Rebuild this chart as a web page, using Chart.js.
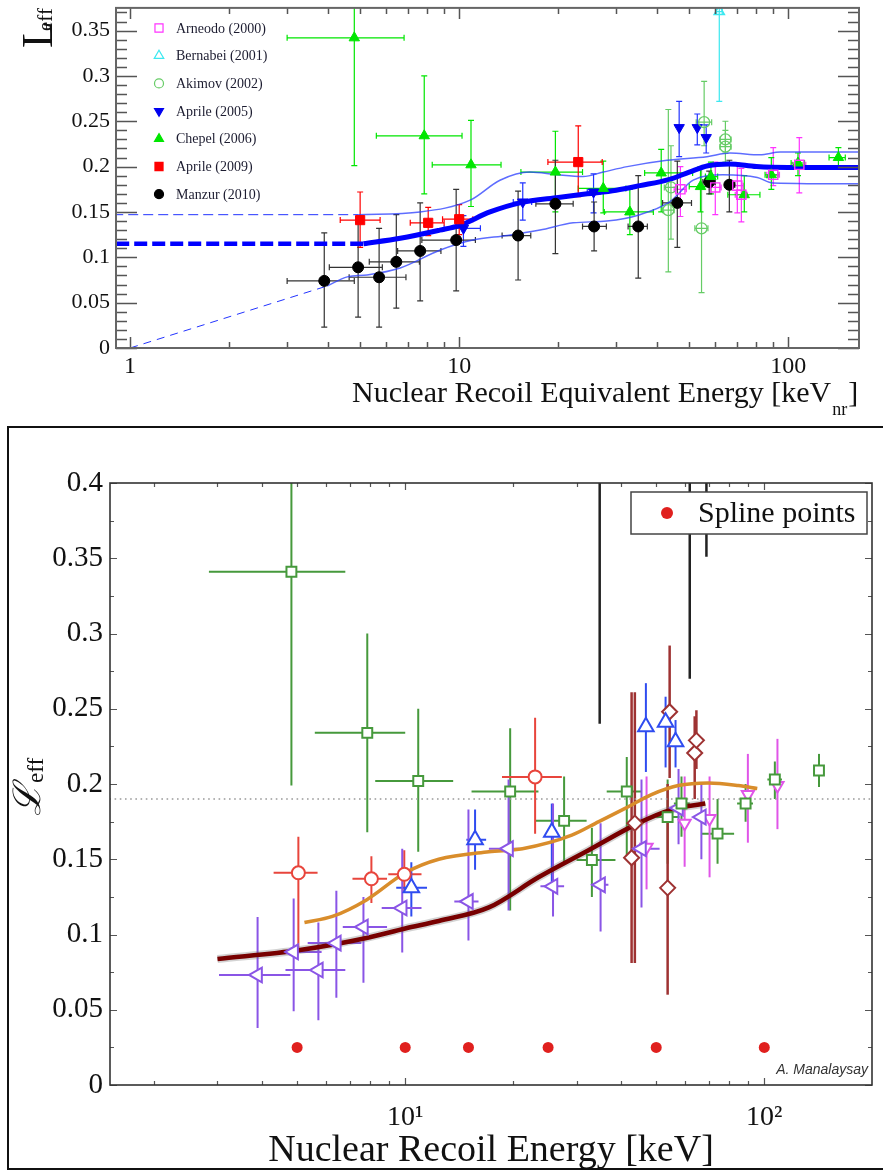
<!DOCTYPE html>
<html>
<head>
<meta charset="utf-8">
<script src="https://cdn.jsdelivr.net/npm/chart.js@4.4.1/dist/chart.umd.min.js"></script>
<style>
  html, body { margin: 0; padding: 0; background: #fff; }
  #page { position: relative; width: 883px; height: 1171px; overflow: hidden; }
  #topChart { position: absolute; left: 0; top: 0; }
  #botFrame { position: absolute; left: 7px; top: 426px; width: 900px; height: 740px; border: 2px solid #111; }
  #botChart { position: absolute; left: 0; top: 420px; }
</style>
</head>
<body>
<div id="page">
  <canvas id="topChart" width="883" height="420"></canvas>
  <div id="botFrame"></div>
  <canvas id="botChart" width="883" height="751"></canvas>
</div>
<script>
// rows are [E, Leff, E low, E high, Leff low, Leff high]

// ---- top panel
const topArneodo = [
  [47, 0.175, 45, 49, 0.145, 0.20],
  [60, 0.177, 57.5, 62.5, 0.147, 0.205],
  [70, 0.179, 67, 73, 0.149, 0.204],
  [72, 0.169, 69, 75, 0.139, 0.198],
  [90, 0.191, 86, 94, 0.179, 0.221],
  [108, 0.202, 103, 113, 0.171, 0.232]
];
const topBernabei = [[61.7, 0.371, 60.5, 63, 0.272, 0.45]];
const topAkimov = [
  [43.2, 0.152, 41.5, 45, 0.084, 0.263],
  [44, 0.177, 42, 46, 0.12, 0.223],
  [54.5, 0.132, 52, 57, 0.061, 0.20],
  [55.5, 0.249, 52.5, 58.5, 0.223, 0.294],
  [64.4, 0.230, 62, 67, 0.215, 0.25],
  [64.4, 0.222, 62, 67, 0.205, 0.24]
];
const topAprile05 = [
  [10.3, 0.132, 9.0, 11.6, 0.112, 0.146],
  [15.6, 0.161, 14.6, 16.6, 0.141, 0.182],
  [25.6, 0.172, 24.5, 26.8, 0.149, 0.192],
  [46.6, 0.243, 46.6, 46.6, 0.211, 0.272],
  [52.9, 0.243, 52.9, 52.9, 0.224, 0.258],
  [56.3, 0.232, 56.3, 56.3, 0.215, 0.246]
];
const topChepel = [
  [4.80, 0.342, 3.0, 6.8, 0.201, 0.40],
  [7.83, 0.234, 5.6, 10.2, 0.170, 0.300],
  [10.86, 0.202, 8.28, 13.4, 0.156, 0.251],
  [19.6, 0.194, 15.4, 23.7, 0.15, 0.239],
  [27.4, 0.176, 23.0, 32.1, 0.149, 0.206],
  [33.0, 0.150, 27.6, 38.9, 0.125, 0.175],
  [41.1, 0.193, 36.6, 51.2, 0.15, 0.219],
  [54.1, 0.178, 50, 58, 0.15, 0.20],
  [58.2, 0.189, 56, 61, 0.17, 0.205],
  [73.5, 0.169, 65.5, 82, 0.15, 0.19],
  [88.8, 0.191, 85, 93, 0.175, 0.21],
  [107, 0.204, 102, 112, 0.19, 0.215],
  [142, 0.210, 133, 149, 0.200, 0.221]
];
const topAprile09 = [
  [5.0, 0.141, 4.35, 5.75, 0.111, 0.172],
  [8.05, 0.138, 7.1, 9.0, 0.124, 0.155],
  [10.0, 0.142, 8.9, 11.0, 0.125, 0.158],
  [23.0, 0.205, 18.6, 27.2, 0.167, 0.245]
];
const topManzur = [
  [3.89, 0.074, 3.0, 4.8, 0.023, 0.127],
  [4.93, 0.089, 4.03, 5.84, 0.034, 0.145],
  [5.71, 0.078, 4.63, 6.89, 0.023, 0.132],
  [6.44, 0.095, 5.33, 7.57, 0.044, 0.147],
  [7.61, 0.107, 6.5, 8.8, 0.052, 0.160],
  [9.79, 0.119, 7.7, 11.2, 0.063, 0.175],
  [15.1, 0.124, 13.5, 16.5, 0.075, 0.173],
  [19.6, 0.159, 17.1, 22.2, 0.104, 0.207],
  [25.7, 0.134, 23.7, 28.0, 0.107, 0.161],
  [35.0, 0.134, 32.6, 37.3, 0.077, 0.190],
  [46.0, 0.160, 41.5, 50.8, 0.111, 0.206],
  [57.5, 0.183, 55, 60, 0.170, 0.195],
  [66.2, 0.180, 64.5, 68.8, 0.150, 0.207]
];
const topFitE = [5.12, 6.62, 8.73, 10.0, 12.4, 15.3, 20, 24.5, 30, 35.4, 43.6, 50, 57, 66, 80, 100, 170];
const topFitL = [0.115, 0.121, 0.130, 0.135, 0.150, 0.160, 0.166, 0.170, 0.174, 0.179, 0.186, 0.194, 0.201, 0.203, 0.200, 0.199, 0.199];
const topFitDashE = [0.8, 5.12];
const topFitDashL = [0.115, 0.115];
const topUpperE = [4.93, 7.6, 10.8, 13.3, 16.4, 19.8, 23.8, 27.4, 32.4, 42.8, 56.6, 66.5, 82, 94.5, 170];
const topUpperL = [0.147, 0.150, 0.163, 0.185, 0.194, 0.191, 0.189, 0.194, 0.200, 0.207, 0.211, 0.215, 0.213, 0.216, 0.216];
const topUpperDashE = [0.8, 4.93];
const topUpperDashL = [0.147, 0.147];
const topLowerE = [3.97, 4.57, 5.25, 6.62, 8.76, 11.0, 14.0, 17.6, 22.2, 28.1, 35.4, 43.6, 51.4, 63.3, 80.5, 89.8, 170];
const topLowerL = [0.0684, 0.0784, 0.0806, 0.0883, 0.108, 0.119, 0.124, 0.130, 0.138, 0.140, 0.147, 0.161, 0.185, 0.191, 0.188, 0.182, 0.181];
const topLowerDashE = [1, 3.97];
const topLowerDashL = [0, 0.0684];
const topXTicks = [1, 10, 100];
const topXMinor = [2, 3, 4, 5, 6, 7, 8, 9, 20, 30, 40, 50, 60, 70, 80, 90];
const topYTicks = [0, 0.05, 0.1, 0.15, 0.2, 0.25, 0.3, 0.35];

// ---- bottom panel
const botChepel = [
  [4.82, 0.341, 2.84, 6.81, 0.199, 0.42],
  [7.84, 0.234, 5.6, 10.0, 0.168, 0.300],
  [10.87, 0.202, 8.25, 13.6, 0.155, 0.250],
  [19.6, 0.195, 15.3, 23.5, 0.116, 0.237],
  [27.7, 0.1755, 23.1, 32.0, 0.148, 0.205],
  [33.1, 0.1495, 30.0, 38.5, 0.125, 0.171],
  [41.4, 0.195, 36.4, 45.5, 0.15, 0.218],
  [53.8, 0.178, 50, 58, 0.147, 0.203],
  [58.8, 0.187, 56, 62, 0.165, 0.205],
  [74.1, 0.167, 66.8, 82.4, 0.147, 0.19],
  [88.7, 0.187, 84, 93, 0.175, 0.2],
  [107, 0.203, 102, 112, 0.19, 0.215],
  [142, 0.209, 142, 142, 0.198, 0.220]
];
const botAprile09 = [
  [5.04, 0.141, 4.3, 5.7, 0.088, 0.165],
  [8.05, 0.137, 7.13, 8.9, 0.121, 0.152],
  [9.94, 0.140, 8.97, 11.1, 0.1276, 0.156],
  [23.0, 0.2047, 18.6, 27.3, 0.167, 0.244]
];
const botAprile05 = [
  [10.4, 0.131, 9.44, 11.5, 0.112, 0.148],
  [15.65, 0.163, 14.8, 16.8, 0.143, 0.183],
  [25.6, 0.168, 25.6, 25.6, 0.134, 0.187],
  [46.8, 0.238, 46.8, 46.8, 0.208, 0.267],
  [53.1, 0.241, 53.1, 53.1, 0.211, 0.258],
  [56.6, 0.228, 56.6, 56.6, 0.211, 0.2425]
];
const botManzur = [
  [3.88, 0.0731, 3.03, 4.79, 0.0379, 0.1116],
  [4.89, 0.0884, 4.67, 5.85, 0.049, 0.124],
  [5.73, 0.0764, 4.64, 6.81, 0.043, 0.108],
  [6.43, 0.0943, 5.35, 7.55, 0.058, 0.129],
  [7.65, 0.105, 6.7, 8.9, 0.068, 0.125],
  [9.81, 0.1176, 8.6, 11.1, 0.088, 0.157],
  [15.0, 0.122, 13.7, 16.0, 0.096, 0.183],
  [19.4, 0.157, 17.1, 20.8, 0.116, 0.203],
  [25.8, 0.132, 23.8, 27.7, 0.112, 0.187],
  [35.0, 0.133, 33.0, 36.8, 0.102, 0.174],
  [45.5, 0.157, 43.2, 51.1, 0.118, 0.203],
  [57.7, 0.184, 55, 60, 0.16, 0.21],
  [66.8, 0.178, 64.5, 69.5, 0.15, 0.20]
];
const botAkimov = [
  [42.7, 0.151, 42.7, 42.7, 0.081, 0.261],
  [43.6, 0.174, 43.6, 43.6, 0.081, 0.261],
  [53.8, 0.131, 53.8, 53.8, 0.060, 0.20],
  [54.5, 0.248, 54.5, 54.5, 0.204, 0.292],
  [64, 0.2206, 64, 64, 0.19, 0.245],
  [64.7, 0.229, 64.7, 64.7, 0.21, 0.249]
];
const botArneodo = [
  [47, 0.158, 47, 47, 0.13, 0.205],
  [60, 0.174, 60, 60, 0.145, 0.205],
  [70.4, 0.177, 70.4, 70.4, 0.138, 0.205],
  [90, 0.193, 90, 90, 0.161, 0.220],
  [108.8, 0.199, 108.8, 108.8, 0.170, 0.230]
];
const botBernabei = [
  [34.8, 0.44, 34.8, 34.8, 0.240, 0.64],
  [62, 0.44, 62, 62, 0.270, 0.61],
  [69, 0.44, 69, 69, 0.351, 0.53]
];
const botSplineE = [5, 10, 15, 25, 50, 100];
const botSplineL = [0.025, 0.025, 0.025, 0.025, 0.025, 0.025];
const botOrangeE = [5.24, 6.27, 7.8, 10, 12.4, 17.1, 21.2, 29.1, 34.6, 41.1, 48.5, 57.6, 69.9, 84.6, 95.6];
const botOrangeL = [0.108, 0.112, 0.123, 0.141, 0.150, 0.155, 0.157, 0.166, 0.175, 0.184, 0.193, 0.199, 0.2007, 0.199, 0.197];
const botMaroonE = [3.0, 5.09, 7.8, 10, 12.4, 17.1, 23.5, 32.4, 44.6, 55.2, 68.5];
const botMaroonL = [0.0837, 0.0897, 0.0977, 0.104, 0.109, 0.118, 0.138, 0.156, 0.174, 0.183, 0.187];
const botRefE = [1.5, 200];
const botRefL = [0.19, 0.19];
const botXTicks = [10, 100];
const botXLabels = ['10\u00B9', '10\u00B2'];
const botXMinor = [2, 3, 4, 5, 6, 7, 8, 9, 20, 30, 40, 50, 60, 70, 80, 90];
const botYTicks = [0, 0.05, 0.1, 0.15, 0.2, 0.25, 0.3, 0.35, 0.4];

const SERIF = "'Liberation Serif', 'Times New Roman', serif";

const pts = rows => rows.map(r => ({ x: r[0], y: r[1] }));
const line = (xs, ys) => xs.map((x, i) => ({ x: x, y: ys[i] }));
const fmtY = v => v === 0 ? '0' : String(+v.toFixed(2));
const between = (majors, step) => {
  const out = [];
  for (let i = 0; i < majors.length - 1; i++) {
    for (let v = majors[i] + step; v < majors[i + 1] - step / 2; v += step) out.push(v);
  }
  return out;
};
// keep the plot box where the picture has it, whatever the label sizes
const noPadX = h => s => { s.height = h; s.paddingLeft = 0; s.paddingRight = 0; };
const noPadY = w => s => { s.width = w; s.paddingTop = 0; s.paddingBottom = 0; };

// error bars drawn under the markers, from each dataset's rows
const errorBars = {
  id: 'errorBars',
  beforeDatasetsDraw(chart, args, opts) {
    const { ctx, chartArea: a, scales: { x, y } } = chart;
    const cap = opts.cap || 0;
    ctx.save();
    ctx.beginPath();
    ctx.rect(a.left, a.top, a.width, a.height);
    ctx.clip();
    chart.data.datasets.forEach(ds => {
      if (!ds.errors) return;
      ctx.strokeStyle = ds.errorColor || ds.borderColor;
      ctx.lineWidth = ds.errorWidth || 1.2;
      ds.errors.forEach(r => {
        const px = x.getPixelForValue(r[0]), py = y.getPixelForValue(r[1]);
        const x0 = x.getPixelForValue(r[2]), x1 = x.getPixelForValue(r[3]);
        const y0 = y.getPixelForValue(r[4]), y1 = y.getPixelForValue(r[5]);
        ctx.beginPath();
        if (r[2] !== r[3]) {
          ctx.moveTo(x0, py); ctx.lineTo(x1, py);
          if (cap) {
            ctx.moveTo(x0, py - cap); ctx.lineTo(x0, py + cap);
            ctx.moveTo(x1, py - cap); ctx.lineTo(x1, py + cap);
          }
        }
        ctx.moveTo(px, y0); ctx.lineTo(px, y1);
        if (cap) {
          ctx.moveTo(px - cap, y0); ctx.lineTo(px + cap, y0);
          ctx.moveTo(px - cap, y1); ctx.lineTo(px + cap, y1);
        }
        ctx.stroke();
      });
    });
    ctx.restore();
  }
};

// frame with inward ticks on all four sides
const frameTicks = {
  id: 'frameTicks',
  afterDatasetsDraw(chart, args, o) {
    const { ctx, chartArea: a, scales: { x, y } } = chart;
    ctx.save();
    ctx.strokeStyle = o.color;
    ctx.lineWidth = o.tickWidth;
    ctx.beginPath();
    const xt = (list, len) => list.forEach(v => {
      const p = Math.round(x.getPixelForValue(v)) + 0.5;
      ctx.moveTo(p, a.bottom); ctx.lineTo(p, a.bottom - len);
      ctx.moveTo(p, a.top); ctx.lineTo(p, a.top + len);
    });
    const yt = (list, len) => list.forEach(v => {
      const p = Math.round(y.getPixelForValue(v)) + 0.5;
      ctx.moveTo(a.left, p); ctx.lineTo(a.left + len, p);
      ctx.moveTo(a.right, p); ctx.lineTo(a.right - len, p);
    });
    xt(o.xMajor, o.xLen[0]); xt(o.xMinor, o.xLen[1]);
    yt(o.yMajor, o.yLen[0]); yt(o.yMinor, o.yLen[1]);
    ctx.stroke();
    ctx.lineWidth = o.frameWidth;
    ctx.strokeStyle = o.frameColor;
    ctx.strokeRect(a.left, a.top, a.width, a.height);
    ctx.restore();
  }
};

function drawMark(ctx, style, rot, x, y, r, fill, stroke, lw) {
  ctx.save();
  ctx.translate(x, y);
  ctx.rotate(rot * Math.PI / 180);
  ctx.beginPath();
  if (style === 'circle') {
    ctx.arc(0, 0, r, 0, Math.PI * 2);
  } else if (style === 'rect') {
    const s = r * Math.SQRT1_2;
    ctx.rect(-s, -s, 2 * s, 2 * s);
  } else {
    for (let k = 0; k < 3; k++) {
      const t = k * 2 * Math.PI / 3;
      ctx.lineTo(Math.sin(t) * r, -Math.cos(t) * r);
    }
    ctx.closePath();
  }
  ctx.fillStyle = fill;
  ctx.fill();
  if (lw) {
    ctx.lineWidth = lw;
    ctx.strokeStyle = stroke;
    ctx.stroke();
  }
  ctx.restore();
}

const topDecor = {
  id: 'topDecor',
  afterDraw(chart) {
    const ctx = chart.ctx;
    ctx.save();
    // legend
    let row = 0;
    chart.data.datasets.forEach(ds => {
      if (!ds.legendText) return;
      const yy = 28 + row * 27.7;
      drawMark(ctx, ds.pointStyle, ds.rotation || 0, 159, yy, ds.legendRadius,
        ds.backgroundColor, ds.borderColor, 1.2);
      ctx.font = '14px ' + SERIF;
      ctx.fillStyle = '#1c1c30';
      ctx.textAlign = 'left';
      ctx.textBaseline = 'middle';
      ctx.fillText(ds.legendText, 176, yy + 1);
      row++;
    });
    // x title with subscript
    ctx.textBaseline = 'alphabetic';
    ctx.fillStyle = '#111';
    const main = 'Nuclear Recoil Equivalent Energy [keV';
    ctx.font = '30px ' + SERIF;
    ctx.fillText(main, 352, 402);
    const w1 = ctx.measureText(main).width;
    ctx.font = '18px ' + SERIF;
    ctx.fillText('nr', 352 + w1 + 1, 415);
    const w2 = ctx.measureText('nr').width;
    ctx.font = '30px ' + SERIF;
    ctx.fillText(']', 352 + w1 + w2 + 2, 402);
    // y title
    ctx.translate(52, 48);
    ctx.rotate(-Math.PI / 2);
    ctx.font = '44px ' + SERIF;
    ctx.fillText('L', 0, 0);
    ctx.font = '21px ' + SERIF;
    ctx.fillText('eff', 17, 0);
    ctx.restore();
  }
};

const botDecor = {
  id: 'botDecor',
  afterDraw(chart) {
    const ctx = chart.ctx;
    const a = chart.chartArea;
    ctx.save();
    // legend box
    ctx.fillStyle = '#fff';
    ctx.fillRect(631, 72, 236, 42);
    ctx.strokeStyle = '#444';
    ctx.lineWidth = 1.5;
    ctx.strokeRect(631, 72, 236, 42);
    const sp = chart.data.datasets.find(d => d.legendText);
    drawMark(ctx, 'circle', 0, 667, 93, 6, sp.backgroundColor, sp.backgroundColor, 0);
    ctx.fillStyle = '#111';
    ctx.font = '30px ' + SERIF;
    ctx.textAlign = 'left';
    ctx.textBaseline = 'alphabetic';
    ctx.fillText(sp.legendText, 698, 102);
    // credit
    ctx.font = 'italic 14px "Liberation Sans", Arial, sans-serif';
    ctx.fillStyle = '#333';
    ctx.textAlign = 'right';
    ctx.fillText('A. Manalaysay', 868, 654);
    // x title
    ctx.font = '38px ' + SERIF;
    ctx.fillStyle = '#111';
    ctx.textAlign = 'center';
    ctx.fillText('Nuclear Recoil Energy [keV]', (a.left + a.right) / 2, 741);
    // y title
    ctx.textAlign = 'left';
    ctx.translate(40, 396);
    ctx.rotate(-Math.PI / 2);
    ctx.font = "italic 38px 'DejaVu Serif', " + SERIF;
    ctx.fillText('\u2112', 0, 0);
    ctx.font = '23px ' + SERIF;
    ctx.fillText('eff', 33, 3);
    ctx.restore();
  }
};

function marks(rows, style, rot, r, color, fill, lw, extra) {
  return Object.assign({
    data: pts(rows), errors: rows,
    pointStyle: style, rotation: rot, pointRadius: r, pointHoverRadius: r,
    borderColor: color, pointBorderColor: color,
    backgroundColor: fill, pointBackgroundColor: fill,
    pointBorderWidth: lw, showLine: false
  }, extra || {});
}

function curve(xs, ys, color, width, dash, extra) {
  return Object.assign({
    data: line(xs, ys), showLine: true, borderColor: color, borderWidth: width,
    borderDash: dash || [], pointRadius: 0, pointHoverRadius: 0, pointHitRadius: 0,
    cubicInterpolationMode: 'monotone', fill: false
  }, extra || {});
}

const open = 'rgba(255,255,255,0)';

new Chart(document.getElementById('topChart'), {
  type: 'scatter',
  data: {
    datasets: [
      marks(topArneodo, 'rect', 0, 6.5, '#ff33ff', open, 1.4, { legendText: 'Arneodo (2000)', legendRadius: 5.7 }),
      marks(topBernabei, 'triangle', 0, 6, '#3ce8f0', open, 1.4, { legendText: 'Bernabei (2001)', legendRadius: 5.5 }),
      marks(topAkimov, 'circle', 0, 5.5, '#66cc66', open, 1.3, { legendText: 'Akimov (2002)', legendRadius: 4.5 }),
      marks(topAprile05, 'triangle', 180, 6, '#0000f0', '#0000f0', 1, { legendText: 'Aprile (2005)', legendRadius: 5.2, errorColor: '#2233ff' }),
      marks(topChepel, 'triangle', 0, 6, '#00e600', '#00e600', 1, { legendText: 'Chepel (2006)', legendRadius: 5.2 }),
      marks(topAprile09, 'rect', 0, 6.5, '#ff0000', '#ff0000', 1, { legendText: 'Aprile (2009)', legendRadius: 5.7 }),
      marks(topManzur, 'circle', 0, 5.5, '#000000', '#000000', 1, { legendText: 'Manzur (2010)', legendRadius: 4.5, errorColor: '#333' }),
      curve(topFitE, topFitL, '#0000ff', 5),
      curve(topFitDashE, topFitDashL, '#0000ff', 4.5, [13, 5]),
      curve(topUpperE, topUpperL, 'rgba(40,60,255,0.75)', 1.5),
      curve(topUpperDashE, topUpperDashL, '#2233ff', 1, [10, 5]),
      curve(topLowerE, topLowerL, 'rgba(40,60,255,0.75)', 1.5),
      curve(topLowerDashE, topLowerDashL, '#2233ff', 1, [8, 6])
    ]
  },
  options: {
    responsive: false,
    animation: false,
    layout: { padding: { left: 0, right: 24, top: 7, bottom: 0 } },
    scales: {
      x: {
        type: 'logarithmic', min: 0.906, max: 164,
        grid: { display: false, drawTicks: false }, border: { display: false },
        afterBuildTicks: s => { s.ticks = topXTicks.map(v => ({ value: v })); },
        afterFit: noPadX(72),
        ticks: { callback: v => String(v), font: { family: SERIF, size: 24 }, color: '#111', padding: 4, maxRotation: 0, autoSkip: false }
      },
      y: {
        min: 0, max: 0.375,
        grid: { display: false, drawTicks: false }, border: { display: false },
        afterBuildTicks: s => { s.ticks = topYTicks.map(v => ({ value: v })); },
        afterFit: noPadY(116),
        ticks: { callback: fmtY, font: { family: SERIF, size: 22 }, color: '#111', padding: 6, autoSkip: false }
      }
    },
    plugins: {
      legend: { display: false },
      tooltip: { enabled: false },
      errorBars: { cap: 3 },
      frameTicks: {
        color: '#555', tickWidth: 1.5, frameColor: '#666', frameWidth: 2,
        xMajor: topXTicks, xMinor: topXMinor, xLen: [11, 6],
        yMajor: topYTicks, yMinor: between(topYTicks.concat([0.40]), 0.01).filter(v => v < 0.375), yLen: [21, 11]
      }
    }
  },
  plugins: [errorBars, frameTicks, topDecor]
});

new Chart(document.getElementById('botChart'), {
  type: 'scatter',
  data: {
    datasets: [
      marks(botSplineE.map((e, i) => [e, botSplineL[i], e, e, botSplineL[i], botSplineL[i]]), 'circle', 0, 5.5, '#e0201e', '#e0201e', 0, { errors: null, legendText: 'Spline points' }),
      marks(botChepel, 'rect', 0, 7, '#46993c', '#fff', 2, { errorWidth: 2 }),
      marks(botAprile09, 'circle', 0, 6.5, '#e8453c', '#fff', 2, { errorWidth: 2 }),
      marks(botAprile05, 'triangle', 0, 9, '#2f4cf0', '#fff', 2, { errorWidth: 2 }),
      marks(botManzur, 'triangle', 270, 8.5, '#8a55e6', '#fff', 2, { errorWidth: 2 }),
      marks(botAkimov, 'rectRot', 0, 7.5, '#9e3232', '#fff', 2, { errorWidth: 2.5 }),
      marks(botArneodo, 'triangle', 180, 7, '#e055e8', '#fff', 2, { errorWidth: 2 }),
      marks(botBernabei, 'circle', 0, 5, '#222', '#fff', 2, { errorWidth: 2.5 }),
      curve(botMaroonE, botMaroonL, '#780000', 4.5),
      curve(botMaroonE, botMaroonL, 'rgba(110,110,110,0.3)', 8),
      curve(botOrangeE, botOrangeL, '#d98d2b', 3.5),
      curve(botRefE, botRefL, '#999', 1.6, [1.6, 3.6])
    ]
  },
  options: {
    responsive: false,
    animation: false,
    layout: { padding: { left: 0, right: 9, top: 63, bottom: 0 } },
    scales: {
      x: {
        type: 'logarithmic', min: 1.506, max: 199.5,
        grid: { display: false, drawTicks: false }, border: { display: false },
        afterBuildTicks: s => { s.ticks = botXTicks.map(v => ({ value: v })); },
        afterFit: noPadX(86),
        ticks: { callback: (v, i) => botXLabels[i], font: { family: SERIF, size: 28 }, color: '#111', padding: 16, maxRotation: 0, autoSkip: false }
      },
      y: {
        min: 0, max: 0.4,
        grid: { display: false, drawTicks: false }, border: { display: false },
        afterBuildTicks: s => { s.ticks = botYTicks.map(v => ({ value: v })); },
        afterFit: noPadY(110),
        ticks: { callback: fmtY, font: { family: SERIF, size: 29 }, color: '#111', padding: 7, autoSkip: false }
      }
    },
    plugins: {
      legend: { display: false },
      tooltip: { enabled: false },
      errorBars: { cap: 0 },
      frameTicks: {
        color: '#555', tickWidth: 1.2, frameColor: '#333', frameWidth: 1.6,
        xMajor: botXTicks, xMinor: botXMinor, xLen: [7, 4],
        yMajor: botYTicks, yMinor: between(botYTicks, 0.025), yLen: [7, 4]
      }
    }
  },
  plugins: [errorBars, frameTicks, botDecor]
});
</script>
</body>
</html>
